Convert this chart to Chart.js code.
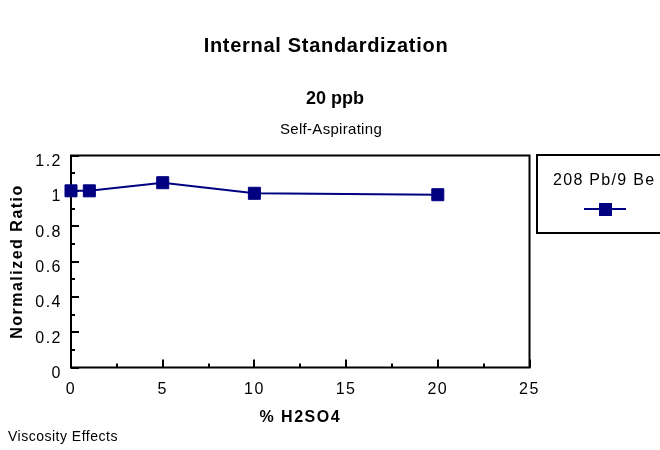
<!DOCTYPE html>
<html>
<head>
<meta charset="utf-8">
<script src="https://cdn.jsdelivr.net/npm/chart.js@4/dist/chart.umd.min.js"></script>
<style>
  html, body { margin: 0; padding: 0; background: #ffffff; }
  #wrap { width: 660px; height: 450px; position: relative; }
  canvas { display: block; }
</style>
</head>
<body>
<div id="wrap"><canvas id="c" width="660" height="450"></canvas></div>
<script>
// ---- data ----
const seriesName = '208 Pb/9 Be';
const acidPercent = [0, 1, 5, 10, 20];
const normalizedRatio = [1.0, 1.0, 1.046, 0.986, 0.978];
const xTickValues = [0, 5, 10, 15, 20, 25];
const yTickLabels = ['0', '0.2', '0.4', '0.6', '0.8', '1', '1.2'];
const chartTitle = 'Internal Standardization';
const chartSubtitle = '20 ppb';
const chartSubtitle2 = 'Self-Aspirating';
const footnote = 'Viscosity Effects';
const xTitle = '% H2SO4';
const yTitle = 'Normalized Ratio';

const FONT = "'Liberation Sans', Arial, sans-serif";
const NAVY = '#000080';

const spacingPlugin = {
  id: 'spacing',
  beforeUpdate(chart) { chart.ctx.letterSpacing = '1.5px'; },
  beforeDraw(chart) { chart.ctx.letterSpacing = '1.5px'; }
};

const decorPlugin = {
  id: 'decor',
  beforeDatasetsDraw(chart) {
    const ctx = chart.ctx;
    const a = chart.chartArea;
    const xs = chart.scales.x, ys = chart.scales.y;
    ctx.save();
    ctx.strokeStyle = '#000';
    ctx.lineWidth = 2;
    ctx.strokeRect(a.left, a.top, a.right - a.left, a.bottom - a.top);
    ctx.beginPath();
    for (let i = 0; i <= 12; i++) {
      const v = i / 10;
      const py = Math.round(ys.getPixelForValue(v));
      const len = (i % 2 === 0) ? 8 : 4;
      ctx.moveTo(a.left, py);
      ctx.lineTo(a.left + len, py);
    }
    for (let i = 0; i <= 10; i++) {
      const v = i * 2.5;
      const px = Math.round(xs.getPixelForValue(v));
      const len = (i % 2 === 0) ? 8 : 4;
      ctx.moveTo(px, a.bottom);
      ctx.lineTo(px, a.bottom - len);
    }
    ctx.stroke();
    ctx.restore();
  },
  afterDraw(chart) {
    const ctx = chart.ctx;
    ctx.save();
    ctx.fillStyle = '#000';
    ctx.textBaseline = 'middle';
    ctx.textAlign = 'center';
    ctx.letterSpacing = '0.7px';
    ctx.font = 'bold 20px ' + FONT;
    ctx.fillText(chartTitle, 326, 46);
    ctx.letterSpacing = '0px';
    ctx.font = 'bold 18px ' + FONT;
    ctx.fillText(chartSubtitle, 335, 99);
    ctx.letterSpacing = '0.3px';
    ctx.font = '15px ' + FONT;
    ctx.fillText(chartSubtitle2, 331, 130);
    ctx.textAlign = 'left';
    ctx.letterSpacing = '0.5px';
    ctx.font = '14px ' + FONT;
    ctx.fillText(footnote, 8, 437);

    const ds = chart.data.datasets[0];
    ctx.lineWidth = 2;
    ctx.strokeStyle = '#000';
    ctx.strokeRect(537, 155, 140, 78);
    ctx.letterSpacing = '1.3px';
    ctx.font = '16px ' + FONT;
    ctx.fillText(ds.label, 553, 181);
    ctx.strokeStyle = ds.borderColor;
    ctx.lineWidth = 2;
    ctx.beginPath();
    ctx.moveTo(584, 209);
    ctx.lineTo(626, 209);
    ctx.stroke();
    ctx.fillStyle = ds.pointBackgroundColor;
    ctx.fillRect(599, 203, 13, 13);
    ctx.restore();
  }
};

new Chart(document.getElementById('c'), {
  type: 'scatter',
  data: {
    datasets: [{
      label: seriesName,
      data: acidPercent.map((x, i) => ({ x: x, y: normalizedRatio[i] })),
      showLine: true,
      clip: false,
      borderColor: NAVY,
      backgroundColor: NAVY,
      borderWidth: 2,
      pointStyle: 'rect',
      pointRadius: 8.5,
      pointHoverRadius: 8.5,
      pointBackgroundColor: NAVY,
      pointBorderColor: NAVY,
      pointBorderWidth: 1
    }]
  },
  options: {
    responsive: false,
    animation: false,
    devicePixelRatio: 1,
    events: [],
    layout: { padding: { top: 155.5, right: 130.5, bottom: 20, left: 0 } },
    plugins: {
      legend: { display: false },
      title: { display: false },
      tooltip: { enabled: false }
    },
    scales: {
      x: {
        type: 'linear',
        min: 0, max: 25,
        afterBuildTicks(scale) { scale.ticks = xTickValues.map(v => ({ value: v })); },
        afterFit(scale) { scale.height = 62.5; },
        grid: { display: false, drawTicks: false },
        border: { display: false },
        ticks: {
          padding: 12,
          color: '#000',
          font: { family: FONT, size: 16 },
          maxRotation: 0,
          callback: v => String(v)
        },
        title: {
          display: true,
          text: xTitle,
          color: '#000',
          font: { family: FONT, size: 16, weight: 'bold' },
          padding: { top: 0, bottom: 3 }
        }
      },
      y: {
        type: 'linear',
        min: 0, max: 1.2,
        afterBuildTicks(scale) { scale.ticks = yTickLabels.map(s => ({ value: parseFloat(s) })); },
        afterFit(scale) { scale.width = 71; },
        grid: { display: false, drawTicks: false },
        border: { display: false },
        ticks: {
          padding: 9,
          labelOffset: 6,
          color: '#000',
          font: { family: FONT, size: 16 },
          callback: (v) => yTickLabels[Math.round(v * 5)]
        },
        title: {
          display: true,
          text: yTitle,
          color: '#000',
          font: { family: FONT, size: 16, weight: 'bold' },
          padding: { top: 8, bottom: 0 }
        }
      }
    }
  },
  plugins: [spacingPlugin, decorPlugin]
});
</script>
</body>
</html>
